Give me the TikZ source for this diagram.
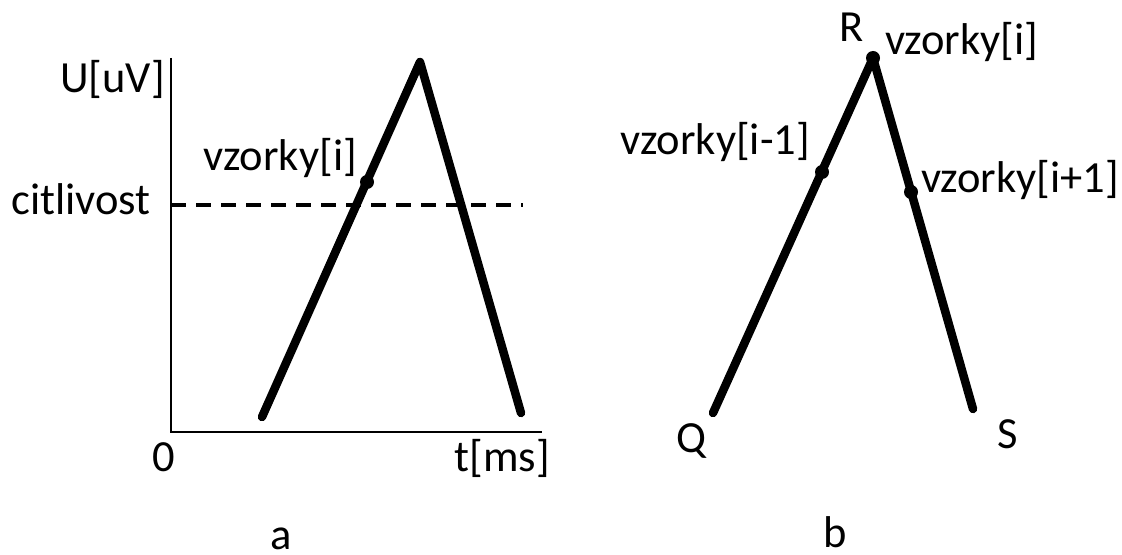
\documentclass[tikz,border=0pt]{standalone}
\usepackage{fontspec}
\setmainfont{Carlito}
\begin{document}
\begin{tikzpicture}[x=1bp,y=-1bp,
  lbl/.style={inner sep=0pt, font=\fontsize{44.5bp}{53bp}\selectfont},
  wave/.style={line width=8.5bp, line cap=round, line join=round},
  axisline/.style={line width=2bp},
  thresh/.style={line width=4bp, dash pattern=on 15bp off 10bp},
  sample/.style={fill=black, circle, inner sep=0pt, minimum size=14bp}]
\useasboundingbox (0,0) rectangle (1122,555);
% ---- panel a ----
\coordinate (ytop) at (171,58);
\coordinate (orig) at (171,432);
\coordinate (xend) at (542,432);
\draw[axisline] (ytop) -- (orig) -- (xend);
\coordinate (c0) at (171,205);
\coordinate (c1) at (523,205);
\draw[thresh] (c0) -- (c1);
\coordinate (aL) at (262,417);
\coordinate (aP) at (420,62);
\coordinate (aR) at (521,413);
\draw[wave] (aL) -- (aP) -- (aR);
\node[sample] (aS) at (367,182) {};
\node[lbl, anchor=base east] (uuv) at (165,93) {U[uV]};
\node[lbl, anchor=base west] (cit) at (11,215) {citlivost};
\node[lbl, anchor=base east] (vza) at (357,171) {vzorky[i]};
\node[lbl, anchor=base] (zero) at (164,471) {0};
\node[lbl, anchor=base east] (tms) at (550,471) {t[ms]};
\node[lbl, anchor=base, text depth=0pt] (la) at (281,549) {a};
% ---- panel b ----
\coordinate (bQ) at (713,413);
\coordinate (bS) at (973,409);
\node[sample] (bR) at (873,58) {};
\node[sample] (bm1) at (822,172) {};
\node[sample] (bp1) at (911,192) {};
\draw[wave] (bQ) -- (bR.center) -- (bS);
\node[lbl, anchor=base] (R) at (852,42) {R};
\node[lbl, anchor=base west] (vzi) at (885,55) {vzorky[i]};
\node[lbl, anchor=base east] (vzm) at (810,155) {vzorky[i-1]};
\node[lbl, anchor=base west] (vzp) at (921,193) {vzorky[i+1]};
\node[lbl, anchor=base] (Q) at (691,452) {Q};
\node[lbl, anchor=base] (S) at (1008,448) {S};
\node[lbl, anchor=base, text depth=0pt] (lb) at (835,547) {b};
\end{tikzpicture}
\end{document}
